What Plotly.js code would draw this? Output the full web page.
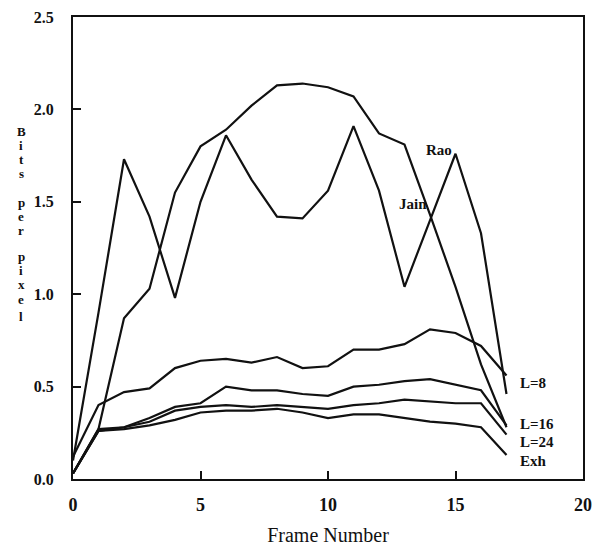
<!DOCTYPE html>
<html>
<head>
<meta charset="utf-8">
<script src="https://cdn.plot.ly/plotly-3.0.1.min.js"></script>
<style>html,body{margin:0;padding:0;background:#fff;}#chart{width:592px;height:548px;}</style>
</head>
<body>
<div id="chart"></div>
<script>
const frames = [0,1,2,3,4,5,6,7,8,9,10,11,12,13,14,15,16,17];
const rao  = [0.03,0.27,0.87,1.03,1.55,1.80,1.89,2.02,2.13,2.14,2.12,2.07,1.87,1.81,1.43,1.04,0.62,0.28];
const jain = [0.10,0.90,1.73,1.42,0.98,1.50,1.86,1.62,1.42,1.41,1.56,1.91,1.56,1.04,1.40,1.76,1.33,0.46];
const l8   = [0.12,0.40,0.47,0.49,0.60,0.64,0.65,0.63,0.66,0.60,0.61,0.70,0.70,0.73,0.81,0.79,0.72,0.56];
const l16  = [0.03,0.27,0.28,0.33,0.39,0.41,0.50,0.48,0.48,0.46,0.45,0.50,0.51,0.53,0.54,0.51,0.48,0.29];
const l24  = [0.03,0.26,0.28,0.31,0.37,0.39,0.40,0.39,0.40,0.39,0.38,0.40,0.41,0.43,0.42,0.41,0.41,0.24];
const exh  = [0.03,0.26,0.27,0.29,0.32,0.36,0.37,0.37,0.38,0.36,0.33,0.35,0.35,0.33,0.31,0.30,0.28,0.13];

const seriesNames = ['Rao','Jain','L=8','L=16','L=24','Exh'];
const seriesVals = [rao, jain, l8, l16, l24, exh];

const xTickVals = [0,5,10,15,20];
const yTickVals = [0,0.5,1,1.5,2,2.5];
const yTickText = ['0.0','0.5','1.0','1.5','2.0','2.5'];
const yTitleWords = ['Bits','per','pixel'];

const serif = 'Liberation Serif, Times New Roman, serif';

const traces = seriesVals.map((v, i) => ({
  x: frames, y: v, type: 'scatter', mode: 'lines', name: seriesNames[i],
  line: {color: '#111', width: 2.2}, showlegend: false, hoverinfo: 'skip'
}));

// curve labels (data coordinates)
const labelPos = [
  {t:'Rao',  x:14.35, y:1.78, xa:'center'},
  {t:'Jain', x:13.35, y:1.49, xa:'center'},
  {t:'L=8',  x:17.45, y:0.52, xa:'left'},
  {t:'L=16', x:17.45, y:0.295, xa:'left'},
  {t:'L=24', x:17.45, y:0.20, xa:'left'},
  {t:'Exh',  x:17.45, y:0.10, xa:'left'}
];
const annotations = labelPos.map(p => ({
  text: p.t, x: p.x, y: p.y, xref: 'x', yref: 'y', xanchor: p.xa, yanchor: 'middle',
  showarrow: false, font: {family: serif, size: 15, color: '#111', weight: 700}
}));

// stacked y-axis title letters (paper coords)
const H = 462, W = 510;
const letterRows = [[131,145,159,173],[202,216,230],[256,270,284,299,316]];
yTitleWords.forEach((w, wi) => {
  w.split('').forEach((ch, ci) => {
    annotations.push({
      text: ch, xref: 'paper', yref: 'paper',
      x: (21 - 73) / W, y: (479 - letterRows[wi][ci]) / H,
      xanchor: 'center', yanchor: 'middle', showarrow: false,
      font: {family: serif, size: 13, color: '#111', weight: 700}
    });
  });
});

const layout = {
  width: 592, height: 548,
  margin: {l: 73, r: 9, t: 17, b: 69},
  paper_bgcolor: '#fff', plot_bgcolor: '#fff',
  showlegend: false,
  xaxis: {
    range: [0, 20], tickvals: xTickVals, ticktext: xTickVals.map(String),
    showgrid: false, zeroline: false, showline: true, linecolor: '#111', linewidth: 2, mirror: true,
    ticks: 'inside', ticklen: 8, tickwidth: 2, tickcolor: '#111',
    ticklabelstandoff: 8,
    tickfont: {family: serif, size: 18, color: '#111', weight: 700},
    title: {text: 'Frame Number', font: {family: serif, size: 20, color: '#111'}, standoff: 14}
  },
  yaxis: {
    range: [0, 2.5], tickvals: yTickVals, ticktext: yTickText,
    showgrid: false, zeroline: false, showline: true, linecolor: '#111', linewidth: 2, mirror: true,
    ticks: 'inside', ticklen: 8, tickwidth: 2, tickcolor: '#111',
    ticklabelstandoff: 14,
    tickfont: {family: serif, size: 16, color: '#111', weight: 700}
  },
  annotations: annotations
};

Plotly.newPlot('chart', traces, layout, {displayModeBar: false, staticPlot: true});
</script>
</body>
</html>
